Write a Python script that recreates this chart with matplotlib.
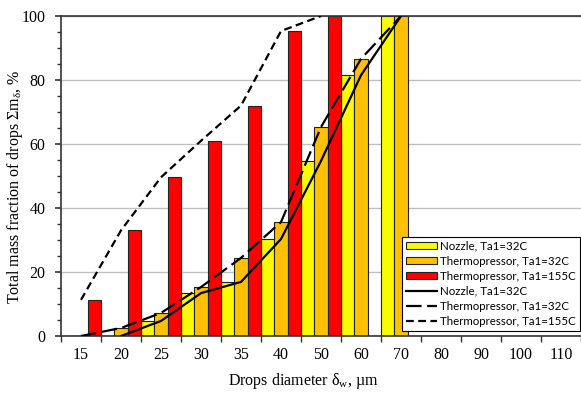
import numpy as np
import matplotlib
matplotlib.use('Agg')
import matplotlib.pyplot as plt
from matplotlib.patches import Patch
from matplotlib.lines import Line2D

plt.rcParams['font.family'] = 'Liberation Serif'
plt.rcParams['mathtext.fontset'] = 'custom'
plt.rcParams['mathtext.rm'] = 'Liberation Serif'
plt.rcParams['mathtext.it'] = 'Liberation Serif:italic'

# drop size classes, um
sizes = ['15', '20', '25', '30', '35', '40', '50', '60', '70', '80', '90', '100', '110']

# cumulative mass fraction, %  (nan = no data for that class)
nozzle_32 = [np.nan, 0, 4.7, 13.4, 16.9, 30.3, 54.7, 81.5, 100]
thermo_32 = [0, 2.5, 7.2, 15.3, 24.4, 35.6, 65.3, 86.6, 100]
thermo_155 = [11.3, 33.0, 49.6, 61.0, 72.0, 95.3, 100]

label_noz = 'Nozzle, Ta1=32C'
label_t32 = 'Thermopressor, Ta1=32C'
label_t155 = 'Thermopressor, Ta1=155C'

c_yellow = '#FAFA05'
c_orange = '#FFC000'
c_red = '#FF0000'

fig = plt.figure(figsize=(5.81, 3.94), dpi=100)
ax = fig.add_axes([61 / 581, 58 / 394, 520 / 581, 320 / 394])

w = 1 / 3
edge = dict(edgecolor='#222222', linewidth=0.8)
x_noz = np.arange(len(nozzle_32))
x_t32 = np.arange(len(thermo_32))
x_t155 = np.arange(len(thermo_155))

ax.bar(x_noz - w, nozzle_32, width=w, color=c_yellow, zorder=2, **edge)
ax.bar(x_t32, thermo_32, width=w, color=c_orange, zorder=2, **edge)
ax.bar(x_t155 + w, thermo_155, width=w, color=c_red, zorder=2, **edge)

ax.plot(x_noz, nozzle_32, color='black', lw=1.6, zorder=3)
ax.plot(x_t32, thermo_32, color='black', lw=1.6, dashes=(7, 2.5), zorder=3)
ax.plot(x_t155, thermo_155, color='black', lw=1.6, dashes=(3.5, 2), zorder=3)

ax.set_xlim(-0.5, len(sizes) - 0.5)
ax.set_ylim(0, 100)

# category labels sit between the boundary ticks
ax.set_xticks(np.arange(len(sizes) + 1) - 0.5)
ax.set_xticklabels([])
ax.set_xticks(np.arange(len(sizes)), minor=True)
ax.set_xticklabels(sizes, minor=True)
ax.tick_params(axis='x', which='major', length=4, width=1, color='#333333', direction='out')
ax.tick_params(axis='x', which='minor', length=0, pad=8, labelsize=11.5)

ax.set_yticks(np.arange(0, 101, 20))
ax.set_yticks(np.arange(0, 101, 5), minor=True)
ax.tick_params(axis='y', which='major', length=4, width=1.2, color='#333333', pad=7, labelsize=11.5)
ax.tick_params(axis='y', which='minor', length=3, width=1, color='#333333')
ax.grid(axis='y', which='major', color='#C0C0C0', linewidth=1, zorder=0)
ax.set_axisbelow(True)

for side in ['left', 'top', 'bottom']:
    ax.spines[side].set_color('#333333')
    ax.spines[side].set_linewidth(1.2)
ax.spines['right'].set_visible(False)

ax.set_ylabel(r'Total mass fraction of drops $\mathrm{\Sigma m_{δ}}$, %', fontsize=11.5)
ax.yaxis.set_label_coords(-0.07, 0.466)
ax.set_xlabel(r'Drops diameter $\mathrm{δ_{w}}$, µm', fontsize=11.5)
ax.xaxis.set_label_coords(0.466, -0.11)

handles = [
    Patch(facecolor=c_yellow, **edge, label=label_noz),
    Patch(facecolor=c_orange, **edge, label=label_t32),
    Patch(facecolor=c_red, **edge, label=label_t155),
    Line2D([], [], color='black', lw=1.6, label=label_noz),
    Line2D([], [], color='black', lw=1.6, dashes=(7, 2.5), label=label_t32),
    Line2D([], [], color='black', lw=1.6, dashes=(3.5, 2), label=label_t155),
]
leg = ax.legend(handles=handles, loc='lower right', bbox_to_anchor=(0.998, 0.016),
                borderaxespad=0, fancybox=False, framealpha=1, edgecolor='black',
                prop={'family': 'Lato', 'size': 8.3}, handlelength=2.7,
                handleheight=0.6, handletextpad=0.3, labelspacing=0.35,
                borderpad=0.35)
leg.get_frame().set_linewidth(0.8)
leg.set_zorder(5)

fig.savefig('out.png', dpi=100)
